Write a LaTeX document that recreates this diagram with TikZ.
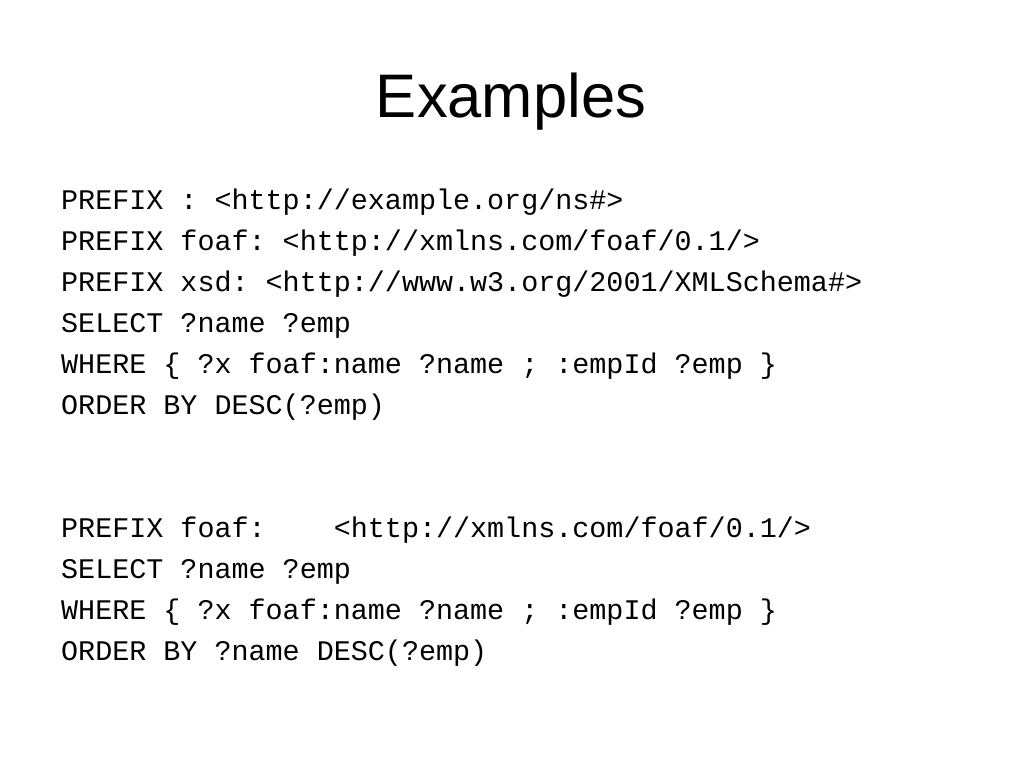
\documentclass[tikz,border=0pt]{standalone}
\usepackage{fontspec}
\newfontfamily\titlefont{Liberation Sans}
\newfontfamily\codefont{Liberation Mono}
\frenchspacing
\begin{document}
\begin{tikzpicture}[x=1pt,y=-1pt,
  titlestyle/.style={anchor=base,inner sep=0pt,font=\titlefont\fontsize{61.5}{70}\selectfont},
  codeline/.style={anchor=base west,inner sep=0pt,font=\codefont\fontsize{28.4}{41}\selectfont\frenchspacing}]
\useasboundingbox[fill=white] (0,0) rectangle (1024,768);
\node[titlestyle] (title) at (511,117) {Examples};
\node[codeline] (a1) at (61,209) {PREFIX : <http://example.org/ns\#>};
\node[codeline] (a2) at (61,250) {PREFIX foaf: <http://xmlns.com/foaf/0.1/>};
\node[codeline] (a3) at (61,291) {PREFIX xsd: <http://www.w3.org/2001/XMLSchema\#>};
\node[codeline] (a4) at (61,332) {SELECT ?name ?emp};
\node[codeline] (a5) at (61,373) {WHERE \{ ?x foaf:name ?name ; :empId ?emp \}};
\node[codeline] (a6) at (61,414) {ORDER BY DESC(?emp)};
\node[codeline] (b1) at (61,537) {PREFIX foaf:\ \ \ \ <http://xmlns.com/foaf/0.1/>};
\node[codeline] (b2) at (61,578) {SELECT ?name ?emp};
\node[codeline] (b3) at (61,619) {WHERE \{ ?x foaf:name ?name ; :empId ?emp \}};
\node[codeline] (b4) at (61,660) {ORDER BY ?name DESC(?emp)};
\end{tikzpicture}
\end{document}
